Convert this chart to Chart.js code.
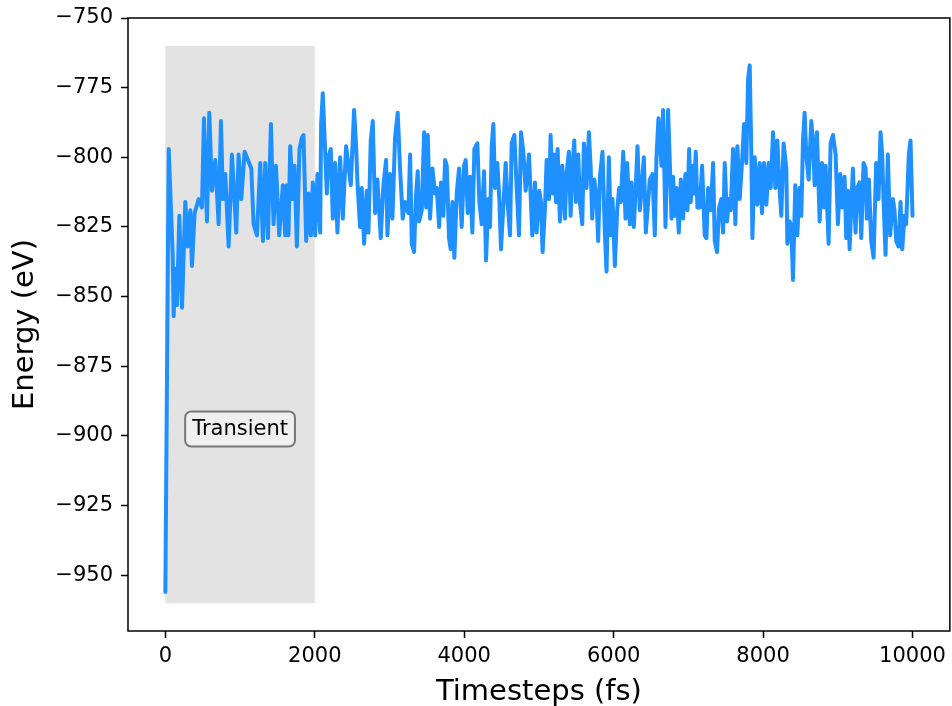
<!DOCTYPE html>
<html>
<head>
<meta charset="utf-8">
<script src="https://cdn.jsdelivr.net/npm/chart.js@4/dist/chart.umd.min.js"></script>
<style>
  html, body { margin: 0; padding: 0; background: #fff; }
  #wrap { width: 952px; height: 706px; }
</style>
</head>
<body>
<div id="wrap"><canvas id="energyChart" width="952" height="706"></canvas></div>
<script>
// values
const timesteps = [
  0, 45, 98, 111, 134, 156, 187, 223, 267, 298, 334, 356, 392, 446, 490, 517, 557, 588, 624, 668,
  713, 744, 771, 802, 847, 891, 949, 980, 1016, 1061, 1150, 1181, 1226, 1270, 1306, 1337, 1373, 1413, 1448, 1480,
  1524, 1573, 1604, 1626, 1648, 1671, 1706, 1729, 1760, 1795, 1827, 1849, 1885, 1916, 1947, 1974, 2005, 2036, 2072, 2085,
  2107, 2139, 2161, 2183, 2214, 2241, 2272, 2303, 2339, 2375, 2419, 2451, 2482, 2526, 2553, 2571, 2606, 2629, 2660, 2696,
  2718, 2749, 2776, 2807, 2838, 2883, 2918, 2954, 2972, 3007, 3039, 3074, 3110, 3141, 3177, 3208, 3252, 3276, 3298, 3329,
  3352, 3378, 3396, 3432, 3463, 3490, 3512, 3543, 3574, 3610, 3632, 3664, 3690, 3721, 3744, 3766, 3797, 3819, 3842, 3868,
  3900, 3931, 3966, 3998, 4020, 4047, 4078, 4109, 4136, 4176, 4203, 4234, 4265, 4292, 4323, 4345, 4368, 4390, 4412, 4443,
  4470, 4492, 4523, 4555, 4581, 4613, 4635, 4671, 4702, 4733, 4760, 4791, 4822, 4867, 4911, 4947, 4969, 5005, 5027, 5049,
  5081, 5103, 5134, 5156, 5183, 5201, 5228, 5250, 5281, 5312, 5348, 5370, 5401, 5424, 5450, 5473, 5495, 5526, 5548, 5580,
  5602, 5637, 5669, 5691, 5713, 5740, 5771, 5793, 5816, 5851, 5882, 5905, 5936, 5963, 5985, 6016, 6047, 6074, 6097, 6128,
  6159, 6181, 6217, 6239, 6270, 6297, 6319, 6350, 6373, 6404, 6431, 6462, 6484, 6520, 6551, 6573, 6600, 6640, 6662, 6694,
  6729, 6752, 6774, 6796, 6818, 6841, 6872, 6899, 6930, 6961, 6988, 7010, 7032, 7055, 7077, 7099, 7121, 7153, 7184, 7219,
  7242, 7264, 7300, 7331, 7353, 7384, 7411, 7442, 7465, 7487, 7518, 7540, 7567, 7598, 7629, 7656, 7687, 7718, 7745, 7776,
  7799, 7821, 7843, 7857, 7888, 7923, 7955, 7986, 8013, 8044, 8075, 8102, 8133, 8164, 8191, 8222, 8244, 8275, 8311, 8325,
  8356, 8378, 8400, 8431, 8458, 8489, 8512, 8534, 8556, 8578, 8610, 8645, 8668, 8690, 8721, 8757, 8788, 8815, 8837, 8877,
  8904, 8935, 8971, 9002, 9033, 9060, 9091, 9113, 9136, 9158, 9180, 9202, 9238, 9260, 9291, 9314, 9345, 9372, 9389, 9416,
  9447, 9479, 9514, 9545, 9572, 9594, 9612, 9639, 9670, 9701, 9737, 9759, 9782, 9813, 9840, 9862, 9893, 9915, 9951, 9973,
  10000
]
const energy = [
  -956, -797, -835, -857, -840, -853, -821, -854, -816, -832, -819, -839, -820, -815, -818, -786, -823, -784, -812, -801,
  -824, -787, -815, -806, -832, -799, -827, -799, -815, -798, -804, -824, -828, -802, -830, -802, -829, -788, -824, -803,
  -828, -810, -828, -810, -828, -796, -815, -803, -832, -797, -793, -792, -830, -813, -828, -809, -828, -806, -827, -788,
  -777, -798, -813, -800, -797, -822, -802, -827, -800, -822, -796, -803, -810, -783, -796, -809, -825, -811, -831, -812,
  -827, -794, -787, -820, -808, -829, -810, -801, -828, -806, -822, -793, -784, -804, -822, -816, -820, -799, -831, -834,
  -815, -805, -823, -819, -791, -818, -792, -822, -804, -813, -811, -825, -809, -821, -801, -803, -829, -833, -816, -836,
  -813, -804, -825, -803, -801, -820, -807, -827, -797, -795, -816, -824, -805, -837, -815, -825, -796, -788, -811, -802,
  -815, -833, -818, -802, -816, -828, -795, -792, -811, -828, -791, -798, -812, -799, -828, -809, -827, -812, -816, -834,
  -818, -801, -815, -792, -813, -799, -816, -797, -823, -803, -822, -806, -798, -821, -803, -794, -816, -799, -816, -824,
  -795, -811, -791, -803, -822, -808, -815, -830, -807, -798, -827, -841, -800, -828, -815, -839, -819, -811, -816, -798,
  -822, -802, -824, -809, -825, -810, -796, -819, -812, -800, -827, -816, -808, -806, -828, -800, -786, -803, -783, -825,
  -783, -802, -822, -807, -821, -811, -827, -808, -822, -806, -819, -797, -816, -803, -813, -798, -818, -818, -803, -828,
  -829, -811, -819, -802, -830, -834, -818, -815, -827, -802, -823, -815, -819, -797, -824, -796, -815, -802, -788, -802,
  -772, -767, -799, -829, -800, -817, -802, -820, -802, -817, -802, -811, -791, -811, -794, -812, -821, -795, -804, -831,
  -823, -825, -844, -810, -828, -811, -821, -794, -784, -799, -808, -787, -794, -810, -791, -823, -802, -818, -803, -831,
  -795, -792, -799, -824, -806, -818, -807, -829, -812, -833, -818, -804, -827, -811, -809, -829, -802, -804, -822, -808,
  -830, -836, -802, -815, -791, -799, -815, -835, -799, -828, -815, -819, -830, -832, -816, -833, -821, -824, -799, -794,
  -821
]
const xTicks = [0, 2000, 4000, 6000, 8000, 10000]
const yTicks = [-750, -775, -800, -825, -850, -875, -900, -925, -950]
const transientSpan = [0, 2000]
const transientEnergy = [-960, -760]
const transientLabel = 'Transient'

const FONT = "'DejaVu Sans', sans-serif"

const overlay = {
  id: 'overlay',
  beforeDatasetsDraw(chart) {
    const { ctx, scales: { x, y } } = chart
    const x0 = x.getPixelForValue(transientSpan[0])
    const x1 = x.getPixelForValue(transientSpan[1])
    const y0 = y.getPixelForValue(transientEnergy[1])
    const y1 = y.getPixelForValue(transientEnergy[0])
    ctx.save()
    ctx.fillStyle = '#e3e3e3'
    ctx.fillRect(x0, y0, x1 - x0, y1 - y0)
    ctx.restore()
  },
  afterDraw(chart) {
    const { ctx, chartArea: a, scales: { x, y } } = chart
    ctx.save()
    // frame
    ctx.strokeStyle = '#000'
    ctx.lineWidth = 1.5
    ctx.strokeRect(a.left, a.top, a.right - a.left, a.bottom - a.top)

    // label box
    const cx = x.getPixelForValue(1000)
    const cy = y.getPixelForValue(-897.5)
    ctx.font = '21px ' + FONT
    const w = ctx.measureText(transientLabel).width + 14
    const h = 35
    ctx.beginPath()
    ctx.roundRect(cx - w / 2, cy - h / 2, w, h, 6)
    ctx.fillStyle = '#f0f0f0'
    ctx.fill()
    ctx.strokeStyle = '#777'
    ctx.lineWidth = 2
    ctx.stroke()
    ctx.fillStyle = '#000'
    ctx.textAlign = 'center'
    ctx.textBaseline = 'middle'
    ctx.fillText(transientLabel, cx, cy + 1)
    ctx.restore()
  }
}

const tickGrid = {
  display: true,
  drawOnChartArea: false,
  drawTicks: true,
  tickLength: 7,
  tickWidth: 1.5,
  tickColor: '#000'
}

new Chart(document.getElementById('energyChart'), {
  type: 'line',
  data: {
    datasets: [{
      data: timesteps.map((t, i) => ({ x: t, y: energy[i] })),
      borderColor: '#1e90ff',
      borderWidth: 4,
      borderJoinStyle: 'round',
      borderCapStyle: 'round',
      pointRadius: 0,
      tension: 0,
      fill: false
    }]
  },
  options: {
    responsive: false,
    animation: false,
    devicePixelRatio: 1,
    layout: { padding: { top: 18, right: 2, left: 0, bottom: 0 } },
    plugins: { legend: { display: false }, tooltip: { enabled: false } },
    scales: {
      x: {
        type: 'linear',
        min: -500,
        max: 10500,
        afterBuildTicks: s => { s.ticks = xTicks.map(v => ({ value: v })) },
        afterFit: s => { s.height = 75 },
        grid: tickGrid,
        border: { display: false },
        ticks: {
          color: '#000', padding: 6, maxRotation: 0, autoSkip: false, font: { family: FONT, size: 21 },
          callback: v => String(v)
        },
        title: { display: true, text: 'Timesteps (fs)', color: '#000', padding: { top: 0, bottom: -4 }, font: { family: FONT, size: 29 } }
      },
      y: {
        type: 'linear',
        min: -970,
        max: -750,
        afterBuildTicks: s => { s.ticks = yTicks.map(v => ({ value: v })) },
        afterFit: s => { s.width = 128; s.paddingTop = 0; s.paddingBottom = 0 },
        grid: tickGrid,
        border: { display: false },
        ticks: {
          color: '#000', padding: 8, autoSkip: false, font: { family: FONT, size: 21, lineHeight: 1 },
          callback: v => String(v).replace('-', '\u2212')
        },
        title: { display: true, text: 'Energy (eV)', color: '#000', padding: { top: 8, bottom: 0 }, font: { family: FONT, size: 29 } }
      }
    }
  },
  plugins: [overlay]
})
</script>
</body>
</html>
